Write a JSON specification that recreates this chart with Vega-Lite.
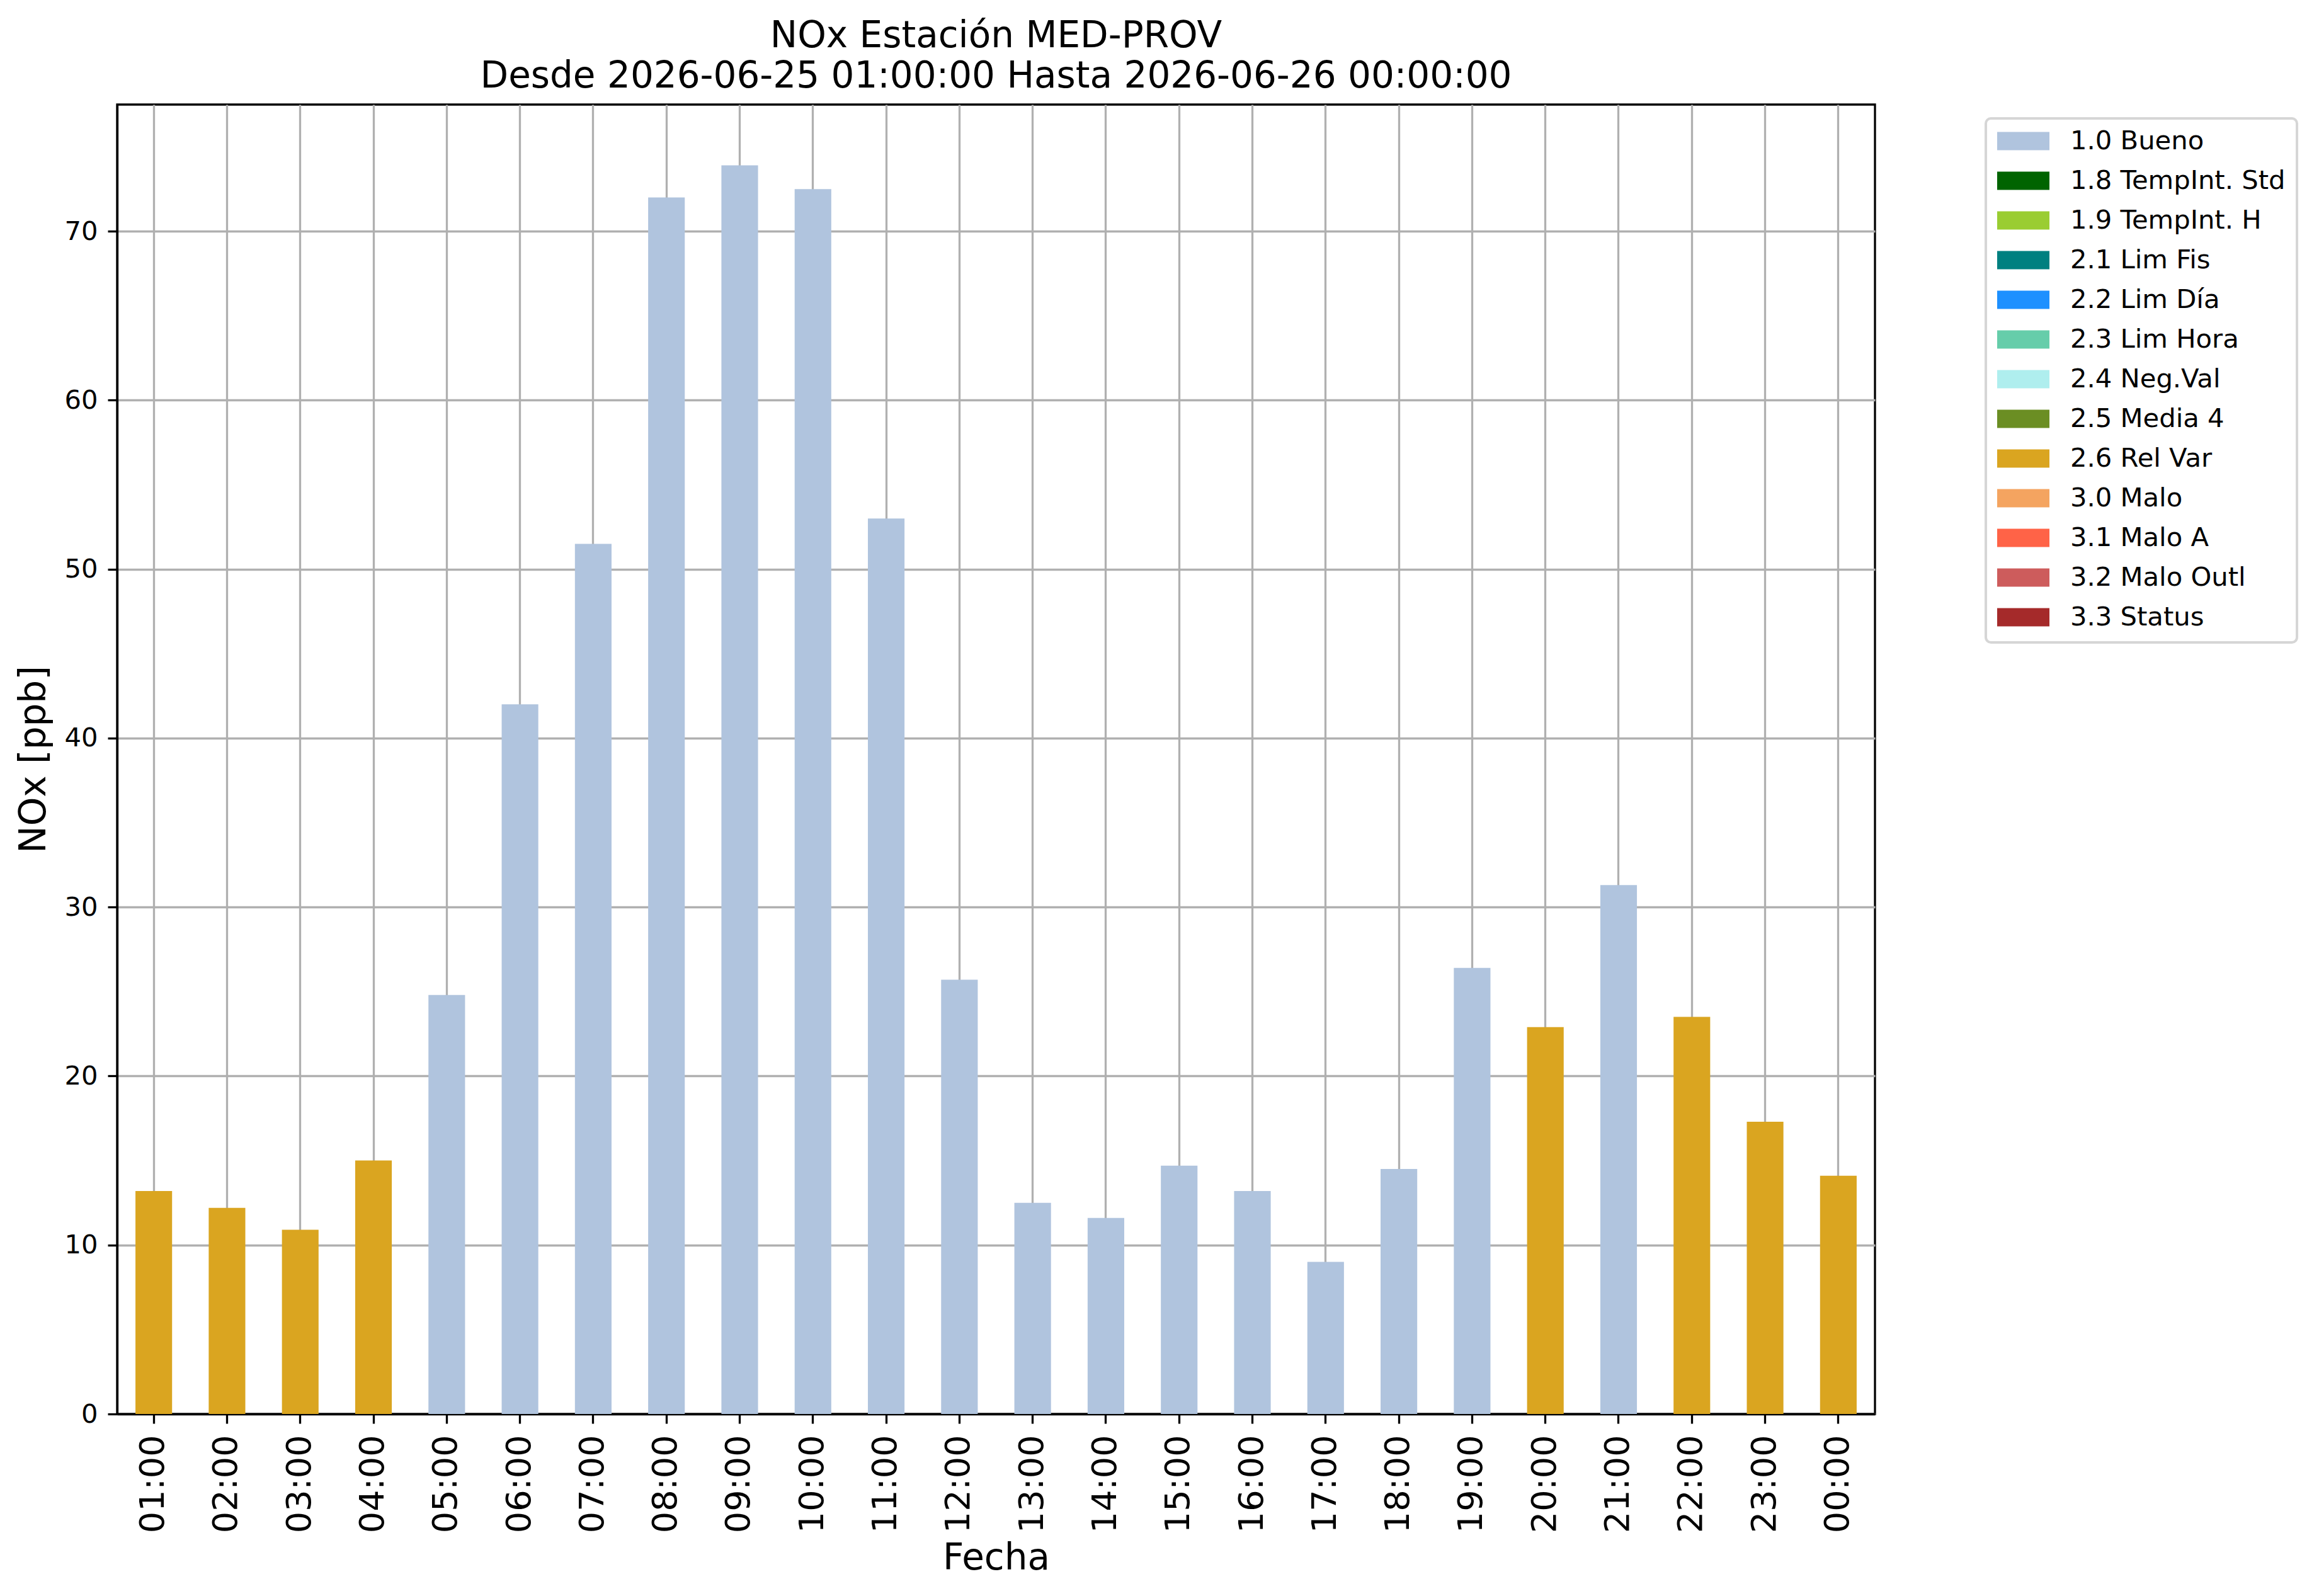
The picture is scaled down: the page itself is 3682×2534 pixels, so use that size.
{
  "$schema": "https://vega.github.io/schema/vega-lite/v6.json",
  "autosize": {"type": "none"},
  "padding": {"left": 186, "top": 166, "right": 705, "bottom": 289},
  "width": 2791,
  "height": 2079,
  "title": {
    "text": ["NOx Estación MED-PROV", "Desde 2026-06-25 01:00:00 Hasta 2026-06-26 00:00:00"],
    "font": "DejaVu Sans",
    "fontSize": 58,
    "fontWeight": "normal",
    "lineHeight": 64,
    "baseline": "alphabetic",
    "anchor": "middle",
    "frame": "group",
    "offset": -31,
    "color": "black"
  },
  "data": {
    "values": [
      {"hora": "01:00", "nox": 13.2, "flag": "2.6 Rel Var"},
      {"hora": "02:00", "nox": 12.2, "flag": "2.6 Rel Var"},
      {"hora": "03:00", "nox": 10.9, "flag": "2.6 Rel Var"},
      {"hora": "04:00", "nox": 15.0, "flag": "2.6 Rel Var"},
      {"hora": "05:00", "nox": 24.8, "flag": "1.0 Bueno"},
      {"hora": "06:00", "nox": 42.0, "flag": "1.0 Bueno"},
      {"hora": "07:00", "nox": 51.5, "flag": "1.0 Bueno"},
      {"hora": "08:00", "nox": 72.0, "flag": "1.0 Bueno"},
      {"hora": "09:00", "nox": 73.9, "flag": "1.0 Bueno"},
      {"hora": "10:00", "nox": 72.5, "flag": "1.0 Bueno"},
      {"hora": "11:00", "nox": 53.0, "flag": "1.0 Bueno"},
      {"hora": "12:00", "nox": 25.7, "flag": "1.0 Bueno"},
      {"hora": "13:00", "nox": 12.5, "flag": "1.0 Bueno"},
      {"hora": "14:00", "nox": 11.6, "flag": "1.0 Bueno"},
      {"hora": "15:00", "nox": 14.7, "flag": "1.0 Bueno"},
      {"hora": "16:00", "nox": 13.2, "flag": "1.0 Bueno"},
      {"hora": "17:00", "nox": 9.0, "flag": "1.0 Bueno"},
      {"hora": "18:00", "nox": 14.5, "flag": "1.0 Bueno"},
      {"hora": "19:00", "nox": 26.4, "flag": "1.0 Bueno"},
      {"hora": "20:00", "nox": 22.9, "flag": "2.6 Rel Var"},
      {"hora": "21:00", "nox": 31.3, "flag": "1.0 Bueno"},
      {"hora": "22:00", "nox": 23.5, "flag": "2.6 Rel Var"},
      {"hora": "23:00", "nox": 17.3, "flag": "2.6 Rel Var"},
      {"hora": "00:00", "nox": 14.1, "flag": "2.6 Rel Var"}
    ]
  },
  "mark": {"type": "bar"},
  "encoding": {
    "x": {
      "field": "hora",
      "type": "nominal",
      "sort": null,
      "title": "Fecha",
      "scale": {"paddingInner": 0.5, "paddingOuter": 0.25},
      "axis": {
        "labelAngle": 270,
        "labelFontSize": 54,
        "labelPadding": 18,
        "titlePadding": 12,
        "grid": true
      }
    },
    "y": {
      "field": "nox",
      "type": "quantitative",
      "title": "NOx [ppb]",
      "scale": {"domain": [0, 77.5], "nice": false},
      "axis": {
        "values": [0, 10, 20, 30, 40, 50, 60, 70],
        "labelFontSize": 41.7,
        "labelPadding": 16,
        "titlePadding": 18,
        "grid": true
      }
    },
    "color": {
      "field": "flag",
      "type": "nominal",
      "scale": {
        "domain": ["1.0 Bueno", "1.8 TempInt. Std", "1.9 TempInt. H", "2.1 Lim Fis", "2.2 Lim Día", "2.3 Lim Hora", "2.4 Neg.Val", "2.5 Media 4", "2.6 Rel Var", "3.0 Malo", "3.1 Malo A", "3.2 Malo Outl", "3.3 Status"],
        "range": ["#B0C4DE", "#006400", "#9ACD32", "#008080", "#1E90FF", "#66CDAA", "#AFEEEE", "#6B8E23", "#DAA520", "#F4A460", "#FF6347", "#CD5C5C", "#A52A2A"]
      },
      "legend": {
        "title": null,
        "orient": "none",
        "legendX": 2967,
        "legendY": 22,
        "padding": 18,
        "rowPadding": 21,
        "clipHeight": 36,
        "symbolType": "M-1,-0.35L1,-0.35L1,0.35L-1,0.35Z",
        "symbolSize": 6889,
        "symbolStrokeWidth": 0,
        "symbolOpacity": 1,
        "labelOffset": 33,
        "labelFontSize": 41.7,
        "labelFont": "DejaVu Sans",
        "labelColor": "black",
        "labelLimit": 1000,
        "strokeColor": "#d6d6d6",
        "cornerRadius": 8,
        "fillColor": "white"
      }
    }
  },
  "config": {
    "font": "DejaVu Sans",
    "view": {"stroke": "black", "strokeWidth": 3.3},
    "bar": {"opacity": 1},
    "legend": {"strokeWidth": 4},
    "axis": {
      "zindex": 1,
      "domainColor": "black",
      "domainWidth": 3.3,
      "tickColor": "black",
      "tickWidth": 3.3,
      "tickSize": 15,
      "gridColor": "#b0b0b0",
      "gridWidth": 3.3,
      "gridOpacity": 1,
      "labelFont": "DejaVu Sans",
      "labelColor": "black",
      "titleFont": "DejaVu Sans",
      "titleFontSize": 58,
      "titleFontWeight": "normal",
      "titleColor": "black",
      "labelLimit": 1000
    }
  }
}
